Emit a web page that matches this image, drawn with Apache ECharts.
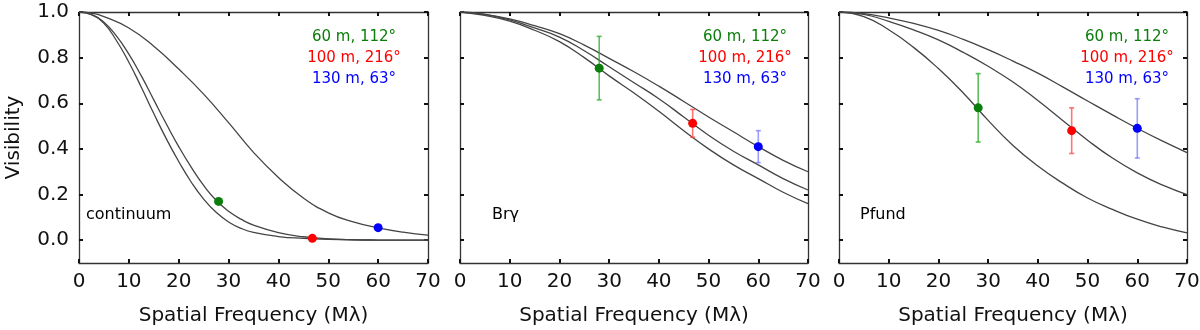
<!DOCTYPE html>
<html>
<head>
<meta charset="utf-8">
<script src="https://cdn.jsdelivr.net/npm/echarts@6/dist/echarts.min.js"></script>
<style>
  html, body { margin: 0; padding: 0; background: #fff; }
  #chart { width: 1200px; height: 330px; }
</style>
</head>
<body>
<div id="chart"></div>
<script>
// ---------------- DATA ----------------
const panelNames = ['continuum', 'Br\u03b3', 'Pfund'];
const baselineLabels = ['60 m, 112\u00b0', '100 m, 216\u00b0', '130 m, 63\u00b0'];
const xTickValues = [0, 10, 20, 30, 40, 50, 60, 70];
const yTickValues = [0, 0.2, 0.4, 0.6, 0.8, 1.0];
const yTickLabels = ['0.0', '0.2', '0.4', '0.6', '0.8', '1.0'];

// model curves, [spatial frequency, visibility]
const contCurveA = [[0,1],[2.5,0.995],[5,0.98],[10,0.93],[15,0.85],[20,0.75],[25,0.64],[30,0.515],[35,0.385],[40,0.275],[45,0.185],[50,0.12],[55,0.08],[60,0.054],[65,0.035],[70,0.022]];
const contCurveB = [[0,1],[2.5,0.99],[5,0.955],[7.5,0.895],[10,0.815],[12.5,0.72],[15,0.615],[17.5,0.51],[20,0.41],[22.5,0.32],[25,0.24],[27.5,0.175],[30,0.127],[32.5,0.092],[35,0.066],[40,0.033],[45,0.015],[50,0.006],[55,0.002],[60,0.0005],[65,0],[70,0]];
const contCurveC = [[0,1],[2.5,0.988],[5,0.95],[7.5,0.875],[10,0.78],[12.5,0.67],[15,0.555],[17.5,0.445],[20,0.345],[22.5,0.255],[25,0.18],[27.5,0.122],[30,0.08],[32.5,0.052],[35,0.034],[40,0.016],[45,0.008],[50,0.004],[55,0.0015],[60,0.0005],[65,0],[70,0]];

const brgCurveA = [[0,1],[5,0.99],[10,0.97],[15,0.94],[20,0.905],[25,0.855],[30,0.797],[35,0.738],[40,0.675],[45,0.608],[50,0.54],[55,0.475],[60,0.41],[65,0.35],[70,0.30]];
const brgCurveB = [[0,1],[5,0.99],[10,0.965],[15,0.93],[20,0.89],[25,0.83],[30,0.76],[35,0.69],[40,0.62],[45,0.54],[50,0.46],[55,0.39],[60,0.33],[65,0.27],[70,0.22]];
const brgCurveC = [[0,1],[5,0.985],[10,0.96],[15,0.92],[20,0.87],[25,0.80],[30,0.72],[35,0.645],[40,0.565],[45,0.48],[50,0.40],[55,0.33],[60,0.27],[65,0.21],[70,0.16]];

const pfCurveA = [[0,1],[5,0.993],[10,0.974],[15,0.95],[20,0.919],[25,0.88],[30,0.835],[35,0.785],[40,0.732],[45,0.672],[50,0.61],[55,0.549],[60,0.49],[65,0.435],[70,0.384]];
const pfCurveB = [[0,1],[5,0.99],[10,0.959],[15,0.922],[20,0.878],[25,0.823],[30,0.762],[35,0.693],[40,0.612],[45,0.525],[50,0.438],[55,0.36],[60,0.295],[65,0.242],[70,0.2]];
const pfCurveC = [[0,1],[5,0.98],[10,0.922],[15,0.845],[20,0.752],[25,0.645],[30,0.525],[35,0.415],[40,0.325],[45,0.25],[50,0.185],[55,0.135],[60,0.092],[65,0.058],[70,0.032]];

// measured points (one per baseline)
const pointFreq = [28, 46.8, 60];
const contVis = [0.17, 0.008, 0.055];
const brgVis = [0.754, 0.512, 0.41];
const brgErr = [0.139, 0.061, 0.07];
const pfVis = [0.58, 0.48, 0.49];
const pfErr = [0.15, 0.10, 0.13];

// ---------------- STYLE / LAYOUT ----------------
const FONT = 'DejaVu Sans';
const pointColors = ['#0a7d0a', '#ff0000', '#0000ff'];
const textColors = ['#0a7d0a', '#ff0000', '#0000ff'];
const barColors = ['rgba(40,170,40,0.75)', 'rgba(255,70,70,0.75)', 'rgba(90,90,255,0.6)'];
const curveColor = '#444';
const frameColor = '#333';

const grids = [
  { left: 79, top: 12, width: 349, height: 251 },
  { left: 460, top: 12, width: 348, height: 251 },
  { left: 839, top: 12, width: 348, height: 251 }
];
const legendCenters = [354, 745, 1127];
const nameLefts = [86, 492, 860];

const curvesByPanel = [
  [contCurveA, contCurveB, contCurveC],
  [brgCurveA, brgCurveB, brgCurveC],
  [pfCurveA, pfCurveB, pfCurveC]
];
const visByPanel = [contVis, brgVis, pfVis];
const errByPanel = [null, brgErr, pfErr];

const option = {
  animation: false,
  backgroundColor: '#fff',
  textStyle: { fontFamily: FONT },
  grid: grids.map(g => Object.assign({ outerBoundsMode: 'none', containLabel: false }, g)),
  xAxis: [],
  yAxis: [],
  series: [],
  graphic: []
};

grids.forEach((g, i) => {
  const tickStyle = { show: true, inside: true, length: 4, lineStyle: { color: '#111', width: 2 } };
  const lineStyle = { show: true, onZero: false, lineStyle: { color: frameColor, width: 1.3 } };
  option.xAxis.push({
    type: 'value', gridIndex: i, position: 'bottom', min: 0, max: 70, interval: 10,
    axisLine: lineStyle, axisTick: tickStyle, splitLine: { show: false },
    axisLabel: { show: true, margin: 9, fontSize: 20, color: '#111', fontFamily: FONT,
      formatter: v => (xTickValues.indexOf(v) >= 0 ? String(v) : '') },
    name: 'Spatial Frequency (M\u03bb)', nameLocation: 'middle', nameGap: 43,
    nameTextStyle: { fontSize: 20, color: '#111', fontFamily: FONT }
  });
  option.xAxis.push({
    type: 'value', gridIndex: i, position: 'top', min: 0, max: 70, interval: 10,
    axisLine: lineStyle, axisTick: tickStyle, splitLine: { show: false },
    axisLabel: { show: false }
  });
  option.yAxis.push({
    type: 'value', gridIndex: i, position: 'left', min: -0.1, max: 1.0,
    axisLine: lineStyle,
    axisTick: Object.assign({}, tickStyle, { customValues: yTickValues }),
    splitLine: { show: false },
    axisLabel: { show: i === 0, margin: 10, fontSize: 20, color: '#111', fontFamily: FONT,
      customValues: yTickValues,
      formatter: v => { const k = yTickValues.findIndex(t => Math.abs(t - v) < 1e-6); return k >= 0 ? yTickLabels[k] : ''; } },
    name: i === 0 ? 'Visibility' : '', nameLocation: 'middle', nameGap: 55, nameRotate: 90,
    nameTextStyle: { fontSize: 20, color: '#111', fontFamily: FONT }
  });
  option.yAxis.push({
    type: 'value', gridIndex: i, position: 'right', min: -0.1, max: 1.0,
    axisLine: lineStyle,
    axisTick: Object.assign({}, tickStyle, { customValues: yTickValues }),
    splitLine: { show: false },
    axisLabel: { show: false }
  });

  const xi = i * 2, yi = i * 2;
  curvesByPanel[i].forEach(c => {
    option.series.push({
      type: 'line', xAxisIndex: xi, yAxisIndex: yi, data: c, smooth: 0.5,
      showSymbol: false, clip: true, silent: true, z: 2,
      lineStyle: { color: curveColor, width: 1.3 }
    });
  });
  if (errByPanel[i]) {
    option.series.push({
      type: 'custom', xAxisIndex: xi, yAxisIndex: yi, z: 3, silent: true,
      encode: { x: 0, y: [1, 2] },
      data: pointFreq.map((f, k) => ({
        value: [f, visByPanel[i][k] - errByPanel[i][k], visByPanel[i][k] + errByPanel[i][k]],
        itemStyle: { color: barColors[k] }
      })),
      renderItem: (params, api) => {
        const lo = api.coord([api.value(0), api.value(1)]);
        const hi = api.coord([api.value(0), api.value(2)]);
        const col = api.visual('color');
        const cap = 2.5;
        const st = { stroke: col, lineWidth: 1.6 };
        return { type: 'group', children: [
          { type: 'line', shape: { x1: lo[0], y1: lo[1], x2: hi[0], y2: hi[1] }, style: st },
          { type: 'line', shape: { x1: lo[0] - cap, y1: lo[1], x2: lo[0] + cap, y2: lo[1] }, style: st },
          { type: 'line', shape: { x1: hi[0] - cap, y1: hi[1], x2: hi[0] + cap, y2: hi[1] }, style: st }
        ]};
      }
    });
  }
  option.series.push({
    type: 'scatter', xAxisIndex: xi, yAxisIndex: yi, z: 4, silent: true,
    symbol: 'circle', symbolSize: 9,
    data: pointFreq.map((f, k) => ({ value: [f, visByPanel[i][k]], itemStyle: { color: pointColors[k], opacity: 1 } }))
  });

  baselineLabels.forEach((t, k) => {
    option.graphic.push({
      type: 'text', x: legendCenters[i], y: 37 + k * 21, z: 10,
      style: { text: t, fill: textColors[k], font: '15px "' + FONT + '"', align: 'center', verticalAlign: 'middle' }
    });
  });
  option.graphic.push({
    type: 'text', x: nameLefts[i], y: 215, z: 10,
    style: { text: panelNames[i], fill: '#000', font: '16px "' + FONT + '"', align: 'left', verticalAlign: 'middle' }
  });
});

const chart = echarts.init(document.getElementById('chart'), null, { renderer: 'canvas' });
chart.setOption(option);
</script>
</body>
</html>
